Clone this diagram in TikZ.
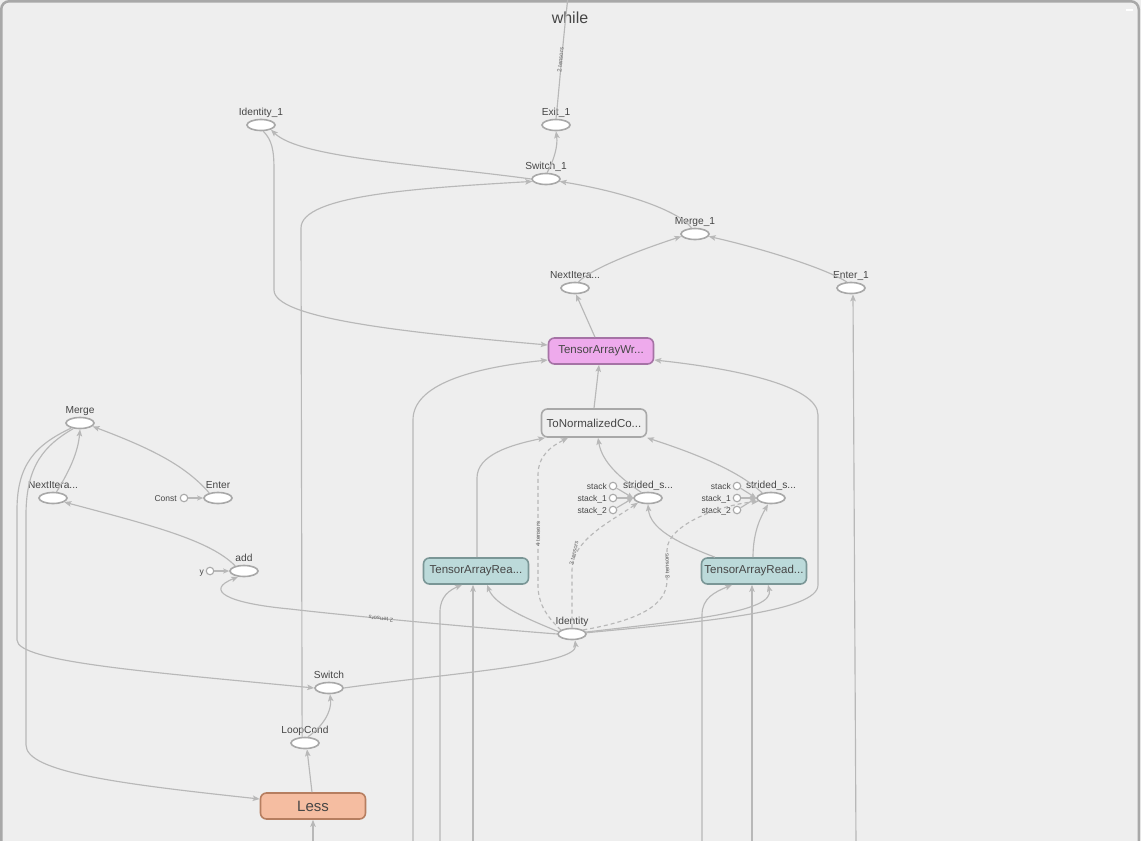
\documentclass[tikz,border=0pt]{standalone}
\usepackage{fontspec}
\setmainfont{Liberation Sans}
\usetikzlibrary{shapes.geometric,arrows.meta}
\definecolor{bg}{RGB}{238,238,238}
\definecolor{framec}{RGB}{168,168,168}
\definecolor{edgec}{RGB}{184,184,184}
\definecolor{txt}{RGB}{70,70,70}
\definecolor{opline}{RGB}{168,168,168}
\definecolor{tawfill}{RGB}{238,170,236}
\definecolor{tawline}{RGB}{165,115,165}
\definecolor{tarfill}{RGB}{188,218,218}
\definecolor{tarline}{RGB}{122,150,150}
\definecolor{lessfill}{RGB}{245,189,161}
\definecolor{lessline}{RGB}{182,126,96}
\newcommand{\mkop}[4]{%
  \node[opnode] (#1) at (#2,#3) {};
  \node[lbl,anchor=base] (#1-l) at (#2,#3-10) {#4};}
\begin{document}
\begin{tikzpicture}[x=1pt,y=-1pt,
  opnode/.style={ellipse,draw=opline,fill=white,line width=1.6pt,minimum width=28pt,minimum height=11pt,inner sep=0pt},
  lbl/.style={font=\fontsize{10.2}{12}\selectfont,text=txt,inner sep=0pt},
  slbl/.style={font=\fontsize{8.5}{10}\selectfont,text=txt,inner sep=0pt},
  elbl/.style={font=\fontsize{6}{7}\selectfont,text=txt!80,inner sep=0.3pt},
  cst/.style={circle,draw=opline,fill=white,line width=1.1pt,minimum size=7.5pt,inner sep=0pt},
  boxnode/.style={rectangle,rounded corners=6pt,line width=1.6pt,minimum width=105pt,minimum height=26pt,inner sep=0pt,text=txt,font=\fontsize{11.5}{13}\selectfont},
  e/.style={draw=edgec,line width=1.15pt,-{Stealth[length=7pt,width=5.5pt,inset=1.5pt]}},
  es/.style={draw=edgec,line width=1.15pt,-{Stealth[length=6pt,width=5pt,inset=1.2pt]}},
  de/.style={e,dash pattern=on 4pt off 3pt},
  eline/.style={draw=edgec,line width=1.15pt}]
\useasboundingbox (0,0) rectangle (1141,841);
\clip (0,0) rectangle (1141,841);
\fill[bg] (0,0) rectangle (1141,841);
\draw[framec,line width=2.5pt,rounded corners=8pt] (1.25,1.25) rectangle (1138.75,900);
\draw[white,line width=1.5pt] (1126,10) -- (1133,10);
\node[lbl,font=\fontsize{16}{18}\selectfont] (title) at (570,18) {while};

% ops
\mkop{exit1}{556}{125}{Exit\_1}
\mkop{id1}{261}{125}{Identity\_1}
\mkop{sw1}{546}{179}{Switch\_1}
\mkop{merge1}{695}{234}{Merge\_1}
\mkop{ni1}{575}{288}{NextItera...}
\mkop{enter1}{851}{288}{Enter\_1}
\mkop{ss1}{648}{498}{strided\_s...}
\mkop{ss2}{771}{498}{strided\_s...}
\mkop{identity}{572}{634}{Identity}
\mkop{merge}{80}{423}{Merge}
\mkop{niL}{53}{498}{NextItera...}
\mkop{enter}{218}{498}{Enter}
\mkop{add}{244}{571}{add}
\mkop{switch}{329}{688}{Switch}
\mkop{loopcond}{305}{743}{LoopCond}

% boxes
\node[boxnode,fill=tawfill,draw=tawline] (taw) at (601,351) {TensorArrayWr...};
\node[boxnode,fill=bg,draw=opline,minimum height=28pt] (tonorm) at (594,423) {ToNormalizedCo...};
\node[boxnode,fill=tarfill,draw=tarline] (tar1) at (476,571) {TensorArrayRea...};
\node[boxnode,fill=tarfill,draw=tarline] (tar2) at (754,571) {TensorArrayRead...};
\node[boxnode,fill=lessfill,draw=lessline,font=\fontsize{15}{17}\selectfont] (less) at (313,806) {Less};

% constants
\node[cst] (s1a) at (613,486) {};
\node[cst] (s1b) at (613,498) {};
\node[cst] (s1c) at (613,510) {};
\node[slbl,anchor=base east] (s1a-l) at (607,489) {stack};
\node[slbl,anchor=base east] (s1b-l) at (607,501) {stack\_1};
\node[slbl,anchor=base east] (s1c-l) at (607,513) {stack\_2};
\node[cst] (s2a) at (737,486) {};
\node[cst] (s2b) at (737,498) {};
\node[cst] (s2c) at (737,510) {};
\node[slbl,anchor=base east] (s2a-l) at (731,489) {stack};
\node[slbl,anchor=base east] (s2b-l) at (731,501) {stack\_1};
\node[slbl,anchor=base east] (s2c-l) at (731,513) {stack\_2};
\node[cst] (constc) at (184,498) {};
\node[slbl,anchor=base east] (const-l) at (177,501) {Const};
\node[cst] (yc) at (210,571) {};
\node[slbl,anchor=base east] (y-l) at (204,574) {y};

% free ends
\coordinate (topout) at (568,-3);
\coordinate (enter1in) at (856,846);
\coordinate (in413) at (413,846);
\coordinate (in440) at (440,846);
\coordinate (in473) at (473,846);
\coordinate (in702) at (702,846);
\coordinate (in752) at (752,846);
\coordinate (inless) at (313,846);

% top edges
\draw[e] (sw1.80) .. controls (554,160) and (558,146) .. (exit1.south);
\draw[eline] (exit1.north) .. controls (559,90) and (563,40) .. (topout);
\node[elbl,rotate=85] (lab1) at (560.5,60) {2 tensors};
\draw[e] (sw1.west) .. controls (420,164) and (300,158) .. (id1.-25);
\draw[e] (loopcond.115) -- (301,228) .. controls (301,195) and (420,188) .. (sw1.190);
\draw[e] (merge1.120) .. controls (680,212) and (630,193) .. (sw1.-10);
\draw[e] (ni1.60) .. controls (592,268) and (640,250) .. (merge1.190);
\draw[e] (enter1.125) .. controls (825,268) and (760,248) .. (merge1.-10);
\draw[e] (enter1in) -- ([xshift=2pt]enter1.south);
\draw[e] ([xshift=-6pt]taw.north) -- ([xshift=1pt]ni1.south);
\draw[e] (id1.-70) .. controls (272,140) and (274,150) .. (274,170) -- (274,290) .. controls (274,318) and (400,332) .. ([yshift=6pt]taw.west);
\draw[e] (in413) -- (413,420) .. controls (413,385) and (470,368) .. ([yshift=-9pt]taw.west);
\draw[e] (identity.5) .. controls (700,622) and (818,612) .. (818,585) -- (818,415) .. controls (818,385) and (730,368) .. ([yshift=-9pt]taw.east);
\draw[e] (tonorm.north) -- ([xshift=-2pt]taw.south);

% middle edges
\draw[e] ([xshift=1pt]tar1.north) -- (477,478) .. controls (477,455) and (510,445) .. ([xshift=-49pt]tonorm.south);
\draw[de] (identity.160) .. controls (545,615) and (538,602) .. (538,585) -- (538,475) .. controls (538,455) and (552,446) .. ([xshift=-26pt]tonorm.south);
\node[elbl,rotate=90] (lab2) at (538,534) {4 tensors};
\draw[de] (identity.north) -- (572,570) .. controls (572,540) and (610,522) .. (ss1.205);
\node[elbl,rotate=78] (lab3) at (574,553) {3 tensors};
\draw[de] (identity.20) .. controls (640,620) and (667,605) .. (667,580) -- (667,550) .. controls (667,525) and (720,505) .. (ss2.195);
\node[elbl,rotate=92] (lab4) at (667,566) {3 tensors};
\draw[e] ([xshift=-39pt]tar2.north) .. controls (675,542) and (650,528) .. (ss1.south);
\draw[e] ([xshift=-1pt]tar2.north) .. controls (753,530) and (762,515) .. ([xshift=-3pt]ss2.south);
\draw[e] (ss1.140) .. controls (620,478) and (602,462) .. ([xshift=4pt]tonorm.south);
\draw[e] (ss2.150) .. controls (740,472) and (700,455) .. ([xshift=53pt]tonorm.south);
\draw[es] (s1a) -- (ss1.west);
\draw[es] (s1b) -- (ss1.west);
\draw[es] (s1c) -- (ss1.west);
\draw[es] (s2a) -- (ss2.west);
\draw[es] (s2b) -- (ss2.west);
\draw[es] (s2c) -- (ss2.west);
\draw[e] (identity.170) .. controls (525,618) and (495,605) .. ([xshift=11pt]tar1.south);
\draw[e] (identity.8) .. controls (690,620) and (775,612) .. ([xshift=14pt]tar2.south);
\draw[e] (in440) -- (440,612) .. controls (440,596) and (450,590) .. ([xshift=-14pt]tar1.south);
\draw[e] (in473) -- ([xshift=-3pt]tar1.south);
\draw[e] (in702) -- (702,615) .. controls (702,598) and (715,592) .. ([xshift=-22pt]tar2.south);
\draw[e] (in752) -- ([xshift=-2pt]tar2.south);
\draw[e] (switch.east) .. controls (450,673) and (578,665) .. ([xshift=3pt]identity.south);

% left edges
\draw[e] (niL.60) .. controls (70,470) and (78,452) .. (merge.south);
\draw[e] (enter.150) .. controls (185,465) and (150,448) .. (merge.-15);
\draw[es] (constc) -- (enter.west);
\draw[e] (add.150) .. controls (210,540) and (150,525) .. (niL.-20);
\draw[es] (yc) -- (add.west);
\draw[e] (identity.west) .. controls (480,628) and (350,616) .. (290,609) .. controls (225,603) and (205,590) .. (add.-135);
\node[elbl,rotate=174] (lab5) at (381,619) {2 tensors};
\draw[e] (merge.-150) .. controls (35,445) and (17,465) .. (17,510) -- (17,640) .. controls (17,662) and (150,672) .. (switch.west);
\draw[e] (merge.-140) .. controls (45,445) and (26,465) .. (26,515) -- (26,745) .. controls (26,772) and (120,784) .. ([yshift=7pt]less.west);
\draw[e] (loopcond.65) .. controls (322,727) and (332,712) .. ([xshift=1pt]switch.south);
\draw[e] ([xshift=-1pt]less.north) -- ([xshift=2pt]loopcond.south);
\draw[e] (inless) -- (less.south);
\end{tikzpicture}
\end{document}
